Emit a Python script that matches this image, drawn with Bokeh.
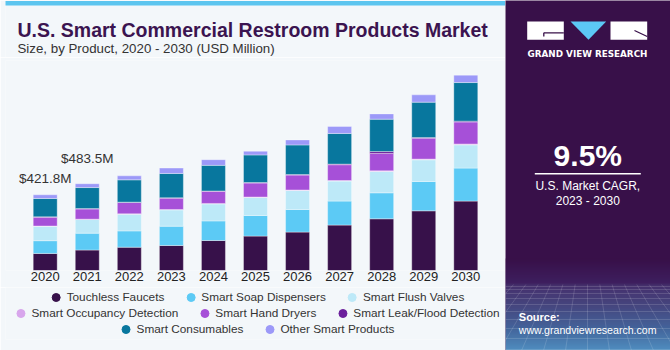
from bokeh.plotting import figure
from bokeh.models import (FactorRange, Range1d, ColumnDataSource, Legend,
                          LegendItem, Label)
from bokeh.layouts import column, row
from bokeh.embed import file_html
from bokeh.resources import INLINE
from bokeh.core.properties import value

# ---------------- data (USD Million) ----------------
years = ["2020", "2021", "2022", "2023", "2024", "2025", "2026", "2027", "2028", "2029", "2030"]
touchless_faucets = [95, 114, 129.8, 139.3, 167.1, 191.6, 213.9, 252.9, 288.0, 332.5, 386.6]
smart_soap_dispensers = [71, 94, 90.8, 107.5, 109.2, 114.7, 125.9, 133.7, 144.8, 163.2, 183.8]
smart_flush_valves = [80, 76, 93.0, 90.8, 94.7, 100.3, 105.8, 111.4, 118.6, 120.9, 129.8]
smart_occupancy_detection = [2.0, 2.0, 2.2, 2.4, 2.6, 2.9, 3.1, 3.4, 3.7, 4.1, 4.5]
smart_hand_dryers = [49, 57, 63, 63, 67, 78, 83, 88, 97, 116, 123]
smart_leak_flood_detection = [2.0, 2.0, 2.1, 2.3, 2.5, 2.7, 3.0, 3.3, 10.5, 4.0, 4.4]
smart_consumables = [102, 117, 124.2, 135.4, 142.6, 153.7, 164.9, 171.0, 180.5, 197.2, 215.0]
other_smart_products = [20.8, 21.5, 22.3, 30.1, 31.7, 20.6, 27.9, 39.0, 29.5, 40.7, 41.2]

series_names = ["Touchless Faucets", "Smart Soap Dispensers", "Smart Flush Valves",
                "Smart Occupancy Detection", "Smart Hand Dryers", "Smart Leak/Flood Detection",
                "Smart Consumables", "Other Smart Products"]
series_colors = ["#37114a", "#5ccaf5", "#bde9f8", "#d8a6ec", "#a650d8", "#6b1f9c",
                 "#08779e", "#9c99f8"]
labelled_years = ["2020", "2021"]
labelled_totals = [421.8, 483.5]

title_text = "U.S. Smart Commercial Restroom Products Market"
subtitle_text = "Size, by Product, 2020 - 2030 (USD Million)"
cagr_text = "9.5%"

BG = "#f3f7fa"
FONT = "Liberation Sans"
TEXT = "#333333"


def blank(width, height, xr, yr, **kw):
    f = figure(width=width, height=height, x_range=xr, y_range=yr,
               toolbar_location=None, output_backend="svg", title=None,
               x_axis_location=None, y_axis_location=None,
               background_fill_color=kw.pop("bg", BG), border_fill_color=kw.pop("border", BG),
               outline_line_color=None, **kw)
    f.xgrid.visible = False
    f.ygrid.visible = False
    return f


# ---------------- header: stripe + titles ----------------
head = blank(505, 57, Range1d(5, 505), Range1d(57, 0),
             min_border_left=5, min_border_right=0, min_border_top=0, min_border_bottom=0)
head.quad(left=[0], right=[510], top=[0.5], bottom=[5], fill_color="#5cc5ef", line_color=None)
head.text(x=[17], y=[29], text=[title_text], text_align="left", text_baseline="middle",
          text_font=value(FONT), text_font_style="bold", text_font_size="19.5px",
          text_color="#3b1450")
head.text(x=[17], y=[47.5], text=[subtitle_text], text_align="left", text_baseline="middle",
          text_font=value(FONT), text_font_size="13.3px", text_color=TEXT)

# ---------------- main chart ----------------
keys = ["s%d" % i for i in range(len(series_names))]
data = dict(year=years)
for k, vals in zip(keys, [touchless_faucets, smart_soap_dispensers, smart_flush_valves,
                          smart_occupancy_detection, smart_hand_dryers,
                          smart_leak_flood_detection, smart_consumables, other_smart_products]):
    data[k] = vals
source = ColumnDataSource(data)

p = figure(x_range=FactorRange(*years, range_padding=0.444, range_padding_units="absolute"),
           y_range=Range1d(0, 1170), width=505, height=230,
           min_border_left=5, min_border_right=0, min_border_top=3, min_border_bottom=17,
           toolbar_location=None, output_backend="svg", title=None,
           y_axis_location=None, background_fill_color=BG, border_fill_color=BG,
           outline_line_color=None)
p.xgrid.visible = False
p.ygrid.visible = False

p.vbar_stack(keys, x="year", width=0.57, source=source, fill_color=series_colors,
             line_color="white", line_alpha=0.35, line_width=1)

offsets = [-16, -25]
for yr, tot, off in zip(labelled_years, labelled_totals, offsets):
    p.text(x=[yr], y=[tot], text=["$%.1fM" % tot], y_offset=off,
           text_align="center", text_baseline="middle",
           text_font=value(FONT), text_font_size="13.5px", text_color=TEXT)

ax = p.xaxis[0]
ax.axis_line_color = None
ax.major_tick_line_color = None
ax.minor_tick_line_color = None
ax.major_tick_out = 0
ax.major_tick_in = 0
ax.major_label_standoff = 1
ax.major_label_text_font = FONT
ax.major_label_text_font_size = "13px"
ax.major_label_text_color = "#222222"

# ---------------- legend rows ----------------
lf = blank(505, 63, Range1d(0, 1), Range1d(0, 1),
           min_border_left=5, min_border_right=0, min_border_top=0, min_border_bottom=11)
swatch = {}
for i, c in enumerate(series_colors):
    # swatch renderers for the legend; their point lies outside the visible range
    swatch[i] = lf.scatter(x=[5], y=[5], marker="circle", size=9,
                           fill_color=c, line_color=c, line_width=1)

rows_idx = [[0, 1, 2], [3, 4, 5], [6, 7]]
row_locs = ["top_center", "center", "bottom_center"]
for idxs, loc in zip(rows_idx, row_locs):
    items = [LegendItem(label=series_names[i], renderers=[swatch[i]]) for i in idxs]
    leg = Legend(items=items, location=loc, orientation="horizontal",
                 glyph_width=20, glyph_height=20, label_height=20, label_standoff=1,
                 spacing=16, padding=0, margin=0, background_fill_alpha=0,
                 border_line_alpha=0, label_text_font=FONT, label_text_font_size="11.8px",
                 label_text_color=TEXT)
    lf.add_layout(leg)

left = column(head, p, lf, spacing=0)

# ---------------- right panel ----------------
DARK = "#381049"
rp = blank(165, 350, Range1d(0, 165), Range1d(350, 0), bg=DARK, border=DARK, min_border=0)

# gradient at the bottom
stops = [(258, (0x38, 0x10, 0x49)), (282, (0x40, 0x24, 0x66)), (285, (0x4a, 0x3c, 0x7a)),
         (305, (0x4a, 0x58, 0x90)), (328, (0x47, 0x80, 0xb6)), (350, (0x58, 0xb8, 0xe8))]
tops, bots, cols = [], [], []
for yy in range(258, 350):
    for (y0, c0), (y1, c1) in zip(stops[:-1], stops[1:]):
        if y0 <= yy < y1:
            t = (yy - y0) / (y1 - y0)
            c = tuple(int(round(a + (b - a) * t)) for a, b in zip(c0, c1))
            break
    tops.append(yy)
    bots.append(yy + 1)
    cols.append("#%02x%02x%02x" % c)
rp.quad(left=0, right=165, top=tops, bottom=bots, fill_color=cols, line_color=None)

# faint mesh
hy = [286, 289, 293, 298, 304, 311, 319, 328, 338, 349]
rp.segment(x0=0, x1=165, y0=hy, y1=hy, line_color="white", line_alpha=0.18, line_width=0.8)
vx0, vx1, vy0, vy1 = [], [], [], []
for xb in range(-160, 330, 22):
    vpx, vpy = 82, 200
    yt = 284
    vx0.append(vpx + (xb - vpx) * (yt - vpy) / 150.0)
    vy0.append(yt)
    vx1.append(xb)
    vy1.append(350)
rp.segment(x0=vx0, y0=vy0, x1=vx1, y1=vy1, line_color="white", line_alpha=0.18, line_width=0.8)

# logo
rp.quad(left=[21.7, 105], right=[58.3, 141.7], top=[21, 21], bottom=[39.3, 39.3],
        fill_color="white", line_color=None)
rp.patch(x=[65, 100.7, 83], y=[21, 21, 39.3], fill_color="#5cc8f5", line_color=None)
rp.segment(x0=[38.3, 38.3, 129], y0=[32.3, 32.3, 30], x1=[58.3, 38.3, 141.7], y1=[32.3, 36, 36],
           line_color=DARK, line_width=1.3)
rp.add_layout(Label(x=82, y=53, text="GRAND VIEW RESEARCH", text_align="center",
                    text_baseline="middle", text_font="DejaVu Sans", text_font_style="bold",
                    text_font_size="8.8px", text_color="white"))

rp.add_layout(Label(x=82.3, y=155, text=cagr_text, text_align="center",
                    text_baseline="middle", text_font=FONT, text_font_style="bold",
                    text_font_size="30px", text_color="white"))
rp.segment(x0=[29.3], y0=[173.3], x1=[135.3], y1=[173.3], line_color="white", line_width=1.5)
rp.add_layout(Label(x=82.3, y=185.2, text="U.S. Market CAGR,", text_align="center",
                    text_baseline="middle", text_font=FONT, text_font_size="12px",
                    text_color="white"))
rp.add_layout(Label(x=82.3, y=200.8, text="2023 - 2030", text_align="center",
                    text_baseline="middle", text_font=FONT, text_font_size="12px",
                    text_color="white"))
rp.add_layout(Label(x=13.3, y=316, text="Source:", text_align="left",
                    text_baseline="middle", text_font=FONT, text_font_style="bold",
                    text_font_size="11px", text_color="white"))
rp.add_layout(Label(x=13.3, y=329.8, text="www.grandviewresearch.com", text_align="left",
                    text_baseline="middle", text_font=FONT, text_font_size="10.6px",
                    text_color="white"))

layout = row(left, rp, spacing=0)

open("out.html", "w").write(file_html(layout, INLINE))
